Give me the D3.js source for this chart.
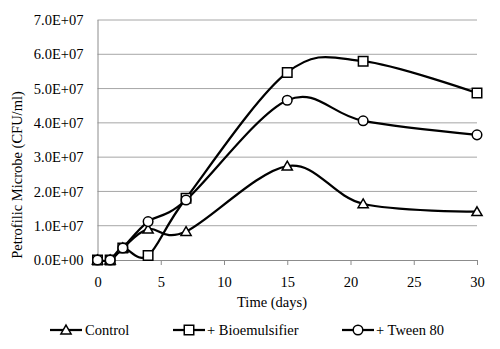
<!DOCTYPE html>
<html>
<head>
<meta charset="utf-8">
<script src="https://cdn.jsdelivr.net/npm/d3@7"></script>
<style>
  body { margin: 0; background: #fff; }
</style>
</head>
<body>
<div id="chart"></div>
<script>
// data
const days = [0, 1, 2, 4, 7, 15, 21, 30];
const control = [0, 0, 3.5e6, 9.0e6, 8.3e6, 2.74e7, 1.64e7, 1.41e7];
const bioemulsifier = [0, 0, 3.5e6, 1.3e6, 1.8e7, 5.47e7, 5.8e7, 4.87e7];
const tween = [0, 0, 3.5e6, 1.12e7, 1.75e7, 4.66e7, 4.06e7, 3.65e7];
const seriesNames = ["Control", "+ Bioemulsifier", "+ Tween 80"];
const markerTypes = ["triangle", "square", "circle"];
const xTicks = [0, 5, 10, 15, 20, 25, 30];
const yTicks = [0, 1e7, 2e7, 3e7, 4e7, 5e7, 6e7, 7e7];

const FONT = "Liberation Serif";
const W = 500, H = 349;
const margin = { top: 20, right: 23, bottom: 89, left: 97.5 };
const width = W - margin.left - margin.right;
const height = H - margin.top - margin.bottom;

const svg = d3.select("#chart").append("svg")
    .attr("width", W)
    .attr("height", H)
    .attr("font-family", FONT);

const g = svg.append("g")
    .attr("transform", `translate(${margin.left},${margin.top})`);

const x = d3.scaleLinear().domain([0, 30]).range([0, width]);
const y = d3.scaleLinear().domain([0, 7e7]).range([height, 0]);

// gridlines
g.selectAll(".grid")
    .data(yTicks.slice(1))
    .enter()
    .append("line")
    .attr("x1", 0)
    .attr("x2", width)
    .attr("y1", d => y(d))
    .attr("y2", d => y(d))
    .attr("stroke", "#a6a6a6")
    .attr("stroke-width", 1);

// y axis
const fmt = d => d === 0 ? "0.0E+00" : (d / 1e7).toFixed(1) + "E+07";
const yAxis = g.append("g")
    .call(d3.axisLeft(y).tickValues(yTicks).tickFormat(fmt).tickSize(0).tickPadding(14))
    .attr("font-family", FONT)
    .attr("font-size", 14.5);
yAxis.select(".domain").attr("stroke", "#8c8c8c").attr("d", `M0.5,0V${height + 5}`);
yAxis.selectAll("text").attr("fill", "#000");

// x axis
const xAxis = g.append("g")
    .attr("transform", `translate(0,${height})`)
    .call(d3.axisBottom(x).tickValues(xTicks).tickSize(5).tickPadding(12).tickSizeOuter(0))
    .attr("font-family", FONT)
    .attr("font-size", 14.5);
xAxis.select(".domain").attr("stroke", "#8c8c8c");
xAxis.selectAll("line").attr("stroke", "#8c8c8c");
xAxis.selectAll("text").attr("fill", "#000");

// axis titles
svg.append("text")
    .attr("transform", "translate(22,175) rotate(-90)")
    .attr("text-anchor", "middle")
    .attr("font-family", FONT)
    .attr("font-size", 14.5)
    .text("Petrofilic Microbe (CFU/ml)");

svg.append("text")
    .attr("x", 272)
    .attr("y", 307)
    .attr("text-anchor", "middle")
    .attr("font-family", FONT)
    .attr("font-size", 14.5)
    .text("Time (days)");

// lines
const allSeries = [control, bioemulsifier, tween];
const line = d3.line()
    .x((d, i) => x(days[i]))
    .y(d => y(d))
    .curve(d3.curveCatmullRom.alpha(0));

const symbols = {
    triangle: d3.symbol().type(d3.symbolTriangle).size(45),
    square: d3.symbol().type(d3.symbolSquare).size(90),
    circle: d3.symbol().type(d3.symbolCircle).size(72)
};

allSeries.forEach(vals => {
    g.append("path")
        .datum(vals)
        .attr("d", line)
        .attr("fill", "none")
        .attr("stroke", "#000")
        .attr("stroke-width", 2.25);
});

allSeries.forEach((vals, s) => {
    g.selectAll(".m" + s)
        .data(vals)
        .enter()
        .append("path")
        .attr("class", "m" + s)
        .attr("d", symbols[markerTypes[s]])
        .attr("transform", (d, i) => `translate(${x(days[i])},${y(d) + (s === 0 ? 1 : 0)})`)
        .attr("fill", "#fff")
        .attr("stroke", "#000")
        .attr("stroke-width", 1.5);
});

// legend
const legendX = [50, 173, 342];
const legend = svg.append("g").attr("transform", "translate(0,330)");
seriesNames.forEach((name, s) => {
    const lg = legend.append("g").attr("transform", `translate(${legendX[s]},0)`);
    lg.append("line")
        .attr("x1", 0).attr("x2", 32)
        .attr("y1", 0).attr("y2", 0)
        .attr("stroke", "#000")
        .attr("stroke-width", 2.25);
    lg.append("path")
        .attr("d", symbols[markerTypes[s]])
        .attr("transform", `translate(16,${s === 0 ? 1 : 0})`)
        .attr("fill", "#fff")
        .attr("stroke", "#000")
        .attr("stroke-width", 1.5);
    lg.append("text")
        .attr("x", s === 0 ? 35 : 34)
        .attr("y", 5)
        .attr("font-family", FONT)
        .attr("font-size", 14.5)
        .text(name);
});
</script>
</body>
</html>
